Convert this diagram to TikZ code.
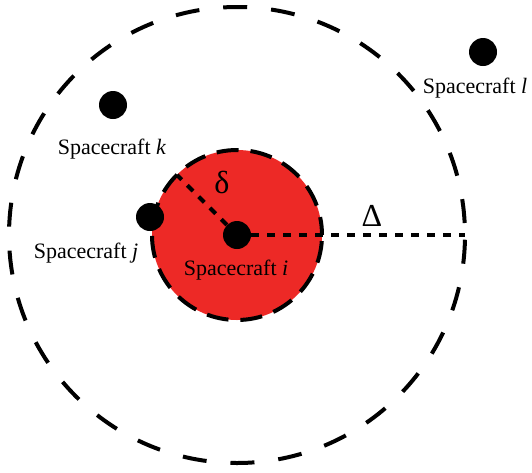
\documentclass[tikz,border=0pt]{standalone}
\usepackage{fontspec}
\setmainfont{Liberation Serif}
\usetikzlibrary{calc}
\definecolor{zonered}{HTML}{ED2926}

\begin{document}
\begin{tikzpicture}[x=1pt, y=-1pt,
    craft/.style={circle, fill=black, inner sep=0pt, minimum size=28pt},
    craftlabel/.style={anchor=base, font=\fontsize{22}{26}\selectfont},
    greeklabel/.style={anchor=base, font=\fontsize{32}{36}\selectfont},
    radiusline/.style={line width=4pt, dash pattern=on 8pt off 8pt}]
    \fill[white] (0,0) rectangle (532,472);
    % safety zone and detection range
    \fill[zonered] (237,235) circle[radius=85pt];
    \draw[line width=4pt, dash pattern=on 22pt off 12pt, dash phase=4pt] (237,235) circle[radius=85pt];
    \draw[line width=4pt, dash pattern=on 24pt off 24pt, dash phase=36pt] (237,235) circle[radius=228pt];
    \coordinate (smallend) at ($(237,235)+(135:85pt)$);
    \coordinate (bigend) at (465,235);
    % spacecraft
    \node[craft] (i) at (237,235) {};
    \node[craft] (j) at (150,217) {};
    \node[craft] (k) at (113,105) {};
    \node[craft] (l) at (483,52) {};
    \draw[radiusline] (i) -- (smallend);
    \draw[radiusline] (i) -- (bigend);
    \node[craftlabel] (ilabel) at (236,275) {Spacecraft \textit{i}};
    \node[craftlabel] (jlabel) at (86,258) {Spacecraft \textit{j}};
    \node[craftlabel] (klabel) at (112,154) {Spacecraft \textit{k}};
    \node[craftlabel] (llabel) at (475,93) {Spacecraft \textit{l}};
    \node[greeklabel] (smalldelta) at (222,193) {δ};
    \node[greeklabel] (bigdelta) at (372,226) {Δ};
  \end{tikzpicture}
\end{document}
